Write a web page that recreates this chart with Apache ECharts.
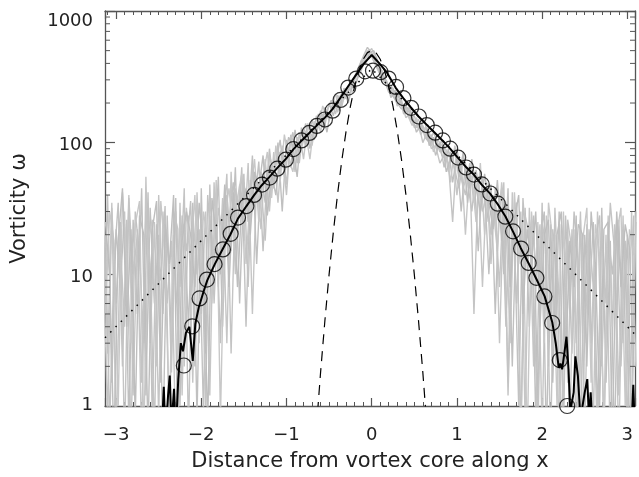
<!DOCTYPE html>
<html><head><meta charset="utf-8">
<script src="https://cdn.jsdelivr.net/npm/echarts@6/dist/echarts.min.js"></script>
<style>html,body{margin:0;padding:0;background:#fff}#c{width:639px;height:477px}</style>
</head><body><div id="c"></div>
<script>
// ---------- data ----------
const xTickLabels = ['−3','−2','−1','0','1','2','3'];
const yTickLabels = ['1','10','100','1000'];
const yMinorTicks = [2,3,4,5,6,7,8,9,20,30,40,50,60,70,80,90,200,300,400,500,600,700,800,900];

const grayX = [-3.15,-3.1,-3.05,-3,-2.95,-2.9,-2.85,-2.8,-2.75,-2.7,
 -2.65,-2.6,-2.55,-2.5,-2.45,-2.4,-2.35,-2.3,-2.25,-2.2,
 -2.15,-2.1,-2.05,-2,-1.95,-1.9,-1.85,-1.8,-1.75,-1.7,
 -1.65,-1.6,-1.55,-1.5,-1.45,-1.4,-1.35,-1.3,-1.25,-1.2,
 -1.15,-1.1,-1.05,-1,-0.95,-0.9,-0.85,-0.8,-0.75,-0.7,
 -0.65,-0.6,-0.55,-0.5,-0.45,-0.4,-0.35,-0.3,-0.25,-0.2,
 -0.15,-0.1,-0.05,0,0.05,0.1,0.15,0.2,0.25,0.3,
 0.35,0.4,0.45,0.5,0.55,0.6,0.65,0.7,0.75,0.8,
 0.85,0.9,0.95,1,1.05,1.1,1.15,1.2,1.25,1.3,
 1.35,1.4,1.45,1.5,1.55,1.6,1.65,1.7,1.75,1.8,
 1.85,1.9,1.95,2,2.05,2.1,2.15,2.2,2.25,2.3,
 2.35,2.4,2.45,2.5,2.55,2.6,2.65,2.7,2.75,2.8,
 2.85,2.9,2.95,3,3.05,3.1];

const gray1 = [28,2.5,35,0.6,18,4,40,1.2,22,0.5,
 55,3,25,0.8,30,6,18,0.5,35,2,
 28,1.5,42,5,30,1.2,50,8,38,3,
 60,10,48,18,70,5,55,22,75,30,
 85,35,95,48,110,60,120,75,140,95,
 160,120,185,145,210,170,240,215,290,270,
 340,400,470,520,430,370,310,270,245,215,
 200,170,175,140,150,120,130,95,110,85,
 95,60,85,40,75,20,65,35,55,8,
 50,12,45,3,38,1.5,42,6,30,0.8,
 32,2,25,0.6,28,4,20,0.5,30,1.5,
 22,0.5,26,3,18,0.7,30,2,20,0.5,
 24,1.2,28,0.6,30,2];

const gray2 = [3,40,1.5,22,8,30,0.7,26,5,45,
 1.2,32,6,20,0.5,28,3,38,1,24,
 4,35,0.8,45,2.5,28,12,55,4,40,
 15,65,6,50,25,80,12,60,35,90,
 45,100,30,105,65,125,80,115,100,150,
 110,175,135,200,160,230,190,260,250,320,
 380,450,530,480,400,340,290,250,225,200,
 180,190,150,160,125,135,105,115,80,100,
 65,90,50,80,30,70,45,60,15,55,
 25,48,5,40,10,45,2,35,0.6,32,
 4,28,1,35,0.5,24,3,30,0.7,22,
 2.5,28,0.5,20,5,25,0.8,32,1.5,18,
 0.5,26,3,20,0.7,25];

const gray3 = [15,0.8,32,6,25,0.5,38,10,20,1.5,
 30,12,0.6,40,5,22,1.8,30,8,45,
 0.6,30,10,25,1,48,6,32,20,58,
 2.5,45,30,58,8,68,40,50,18,80,
 60,78,90,40,115,95,70,130,110,125,
 140,150,165,190,185,200,225,240,270,300,
 360,420,500,450,380,330,300,240,260,190,
 210,155,165,130,140,100,120,90,95,70,
 80,70,25,90,55,40,70,5,50,30,
 40,20,30,8,50,1.2,20,35,0.5,28,
 20,8,0.6,25,15,0.5,32,6,1,26,
 15,3,30,0.6,22,8,0.5,25,6,35,
 15,0.5,22,8,0.6,30];

const grayXb = [-3.125,-3.075,-3.025,-2.975,-2.925,-2.875,-2.825,-2.775,-2.725,-2.675,
 -2.625,-2.575,-2.525,-2.475,-2.425,-2.375,-2.325,-2.275,-2.225,-2.175,
 -2.125,-2.075,-2.025,-1.975,-1.925,-1.875,-1.825,-1.775,-1.725,-1.675,
 -1.625,-1.575,-1.525,-1.475,-1.425,-1.375,-1.325,-1.275,-1.225,-1.175,
 -1.125,-1.075,-1.025,-0.975,-0.925,-0.875,-0.825,-0.775,-0.725,-0.675,
 -0.625,-0.575,-0.525,-0.475,-0.425,-0.375,-0.325,-0.275,-0.225,-0.175,
 -0.125,-0.075,-0.025,0.025,0.075,0.125,0.175,0.225,0.275,0.325,
 0.375,0.425,0.475,0.525,0.575,0.625,0.675,0.725,0.775,0.825,
 0.875,0.925,0.975,1.025,1.075,1.125,1.175,1.225,1.275,1.325,
 1.375,1.425,1.475,1.525,1.575,1.625,1.675,1.725,1.775,1.825,
 1.875,1.925,1.975,2.025,2.075,2.125,2.175,2.225,2.275,2.325,
 2.375,2.425,2.475,2.525,2.575,2.625,2.675,2.725,2.775,2.825,
 2.875,2.925,2.975,3.025,3.075];

const gray4 = [20,0.7,12,35,2,26,0.5,30,14,3,
 42,0.8,24,9,33,0.6,20,4,28,15,
 36,2,22,0.9,40,14,26,3,45,25,
 50,20,65,4,52,35,72,15,62,45,
 70,105,55,88,120,70,100,140,90,135,
 165,130,175,210,165,225,250,200,280,330,
 400,470,510,440,360,300,280,250,215,230,
 165,185,145,130,145,110,100,120,100,80,
 75,85,62,45,78,50,30,62,40,45,
 10,40,28,45,4,30,20,1,38,12,
 26,0.8,18,30,2,22,10,0.5,28,5,
 30,12,0.6,24,3,18,28,0.5,20,10,
 26,2,18,0.5,28];

const gray5 = [5,30,18,1,42,12,3,24,36,0.6,
 18,26,2,36,14,0.7,30,22,1.2,32,
 14,40,3,30,18,6,52,0.8,28,45,
 22,38,58,12,40,75,25,55,85,38,
 95,50,115,75,60,110,90,120,75,145,
 130,190,155,170,235,190,215,270,240,300,
 350,430,495,460,390,350,270,275,230,195,
 195,160,135,155,115,130,120,85,105,95,
 88,50,95,70,45,60,55,25,70,20,
 48,32,15,50,25,3,42,12,25,0.5,
 30,12,24,3,35,18,1,24,14,0.6,
 22,0.5,18,32,1.5,24,14,0.7,28,4,
 20,32,1,22,14];

const gray6 = [25,10,0.5,18,45,4,22,0.8,28,20,
 0.6,22,36,1.5,24,12,40,0.5,18,30,
 20,8,35,15,0.7,38,20,10,48,8,
 42,8,35,45,20,60,45,80,28,58,
 40,85,70,110,95,55,130,95,120,105,
 150,165,120,185,205,175,260,225,265,290,
 420,390,480,500,410,320,295,220,250,215,
 175,200,160,120,135,145,95,110,90,105,
 60,75,90,55,85,35,75,45,30,58,
 35,22,52,18,35,8,26,40,5,22,
 12,30,4,20,26,1.5,20,30,2,18,
 8,24,20,2,30,12,1,22,25,0.5,
 30,8,24,16,2];

const blackX = [-2.52,-2.47,-2.45,-2.44,-2.42,-2.39,-2.37,-2.35,-2.32,-2.3,
 -2.27,-2.24,-2.215,-2.18,-2.14,-2.1,-2.07,-2.03,-1.97,-1.93,
 -1.84,-1.75,-1.66,-1.57,-1.47,-1.38,-1.29,-1.2,-1.11,-1.01,
 -0.92,-0.82,-0.73,-0.64,-0.55,-0.46,-0.37,-0.27,-0.18,-0.09,
 0,0.09,0.18,0.28,0.37,0.46,0.55,0.65,0.74,0.83,
 0.92,1.01,1.11,1.2,1.29,1.39,1.48,1.57,1.66,1.75,
 1.84,1.93,2.03,2.12,2.16,2.195,2.215,2.235,2.26,2.286,
 2.31,2.33,2.37,2.39,2.42,2.45,2.5,2.53,2.55,2.57,
 2.6,2.7,2.85,3.0,3.05,3.07,3.09];
const blackY = [0.4,0.6,1.0,1.4,0.6,1.2,1.7,0.7,1.35,0.6,
 1.6,3.0,2.6,3.6,4.0,2.2,4.2,5.6,7.5,9.0,
 12,15.5,20,26.5,33,40,47.5,55,64,75,
 89,104,119,136,155,180,218,272,330,400,
 463,400,340,262,218,185,158,136,119,104,
 90,77,65,57,48,41,34,27.5,21,15.8,
 12.2,9.3,6.8,4.3,3.0,1.95,2.1,1.9,2.5,3.36,
 1.9,0.9,1.27,2.38,1.69,0.8,1.27,1.6,0.8,1.27,
 0.5,0.4,0.4,0.5,0.7,1.45,0.6];

const circleX = [-2.205,-2.106,-2.02,-1.934,-1.844,-1.746,-1.655,-1.569,-1.471,-1.381,
 -1.287,-1.196,-1.108,-1.008,-0.92,-0.824,-0.732,-0.644,-0.549,-0.459,
 -0.365,-0.275,-0.181,-0.079,0.015,0.104,0.198,0.286,0.372,0.462,
 0.554,0.647,0.745,0.835,0.921,1.015,1.107,1.2,1.292,1.392,
 1.48,1.568,1.659,1.753,1.842,1.933,2.027,2.118,2.207,2.294];
const circleY = [2.03,4.03,6.56,9.13,11.95,15.46,20.3,27,33,40.1,
 48,54.3,63.4,74.3,89.3,104,118.5,134,150,175,
 211,262,307,348,352,343,307,265,218,184,
 158,136,119,104,90,77,64.8,57.2,48.2,41.1,
 34.4,27.4,21.2,15.7,12.2,9.4,6.79,4.27,2.23,1.0];

const dotX = [-3.13, 0, 3.09];
const dotY = [3.3, 364, 3.5];

const dashX = [-0.65,-0.6,-0.55,-0.5,-0.45,-0.4,-0.35,-0.3,-0.25,-0.2,-0.15,-0.1,-0.05,0,
 0.05,0.1,0.15,0.2,0.25,0.3,0.35,0.4,0.45,0.5,0.55,0.6,0.65];
const dashY = [0.67,1.8,4.4,10,21,41,74,123,189,268,353,430,483,502,
 483,430,353,268,189,123,74,41,21,10,4.4,1.8,0.67];

// ---------- chart ----------
const X_MIN = -3.13, X_MAX = 3.09;
const FONT = 'DejaVu Sans';
const AX = '#555';
const TXT = '#222';
const zip = (xs, ys) => xs.map((x, i) => [x, ys[i]]);

const chart = echarts.init(document.getElementById('c'), null, {renderer: 'canvas'});
const xLab = v => {
  const k = Math.round(v);
  if (Math.abs(v - k) > 1e-6) return '';
  return xTickLabels[k + 3] || '';
};
const yLab = v => {
  const s = String(Math.round(v));
  if (!yTickLabels.includes(s)) return '';
  if (s === '1000') return '{t|' + s + '}';
  if (s === '1') return '{b|' + s + '}';
  return '{n|' + s + '}';
};
const xCommon = {
  type: 'value', min: X_MIN, max: X_MAX, minInterval: 1, maxInterval: 1,
  axisLine: {show: true, onZero: false, lineStyle: {color: AX, width: 1.3}},
  axisTick: {show: true, inside: true, length: 8, lineStyle: {color: AX, width: 1.2}},
  minorTick: {show: true, splitNumber: 10, length: 4, lineStyle: {color: AX, width: 1}},
  splitLine: {show: false}, minorSplitLine: {show: false}
};
const yCommon = {
  type: 'log', logBase: 10, min: 1, max: 1000,
  axisLine: {show: true, onZero: false, lineStyle: {color: AX, width: 1.3}},
  axisTick: {show: true, inside: true, length: 10, lineStyle: {color: AX, width: 1.2}},
  splitLine: {show: false}
};
const grayStyle = c => ({color: c, width: 1.4});
const graySeries = (xs, ys, c) => ({type: 'line', data: zip(xs, ys), showSymbol: false, symbol: 'none',
  clip: true, lineStyle: grayStyle(c), z: 1, silent: true});
const labRich = pad => ({fontFamily: FONT, fontSize: 18, color: TXT, padding: pad});

chart.setOption({
  animation: false,
  backgroundColor: '#fff',
  grid: {left: 105, right: 4, top: 11, bottom: 63, containLabel: false},
  xAxis: [
    Object.assign({}, xCommon, {
      position: 'bottom',
      name: 'Distance from vortex core along x', nameLocation: 'middle', nameGap: 45,
      nameTextStyle: {fontFamily: FONT, fontSize: 21, color: TXT},
      axisLabel: {show: true, margin: 20, formatter: xLab, showMinLabel: false, showMaxLabel: false,
        fontFamily: FONT, fontSize: 18, color: TXT}
    }),
    Object.assign({}, xCommon, {position: 'top', axisLabel: {show: false}})
  ],
  yAxis: [
    Object.assign({}, yCommon, {
      position: 'left',
      name: 'Vorticity ω', nameLocation: 'middle', nameGap: 75,
      nameTextStyle: {fontFamily: FONT, fontSize: 21, color: TXT},
      axisLabel: {show: true, margin: 12, formatter: yLab, fontFamily: FONT, fontSize: 18, color: TXT,
        rich: {
          t: labRich([20, 0, 0, 0]),
          n: labRich([6, 0, 0, 0]),
          b: labRich([0, 0, 1, 0])
        }}
    }),
    Object.assign({}, yCommon, {position: 'right', axisLabel: {show: false}})
  ],
  series: [
    graySeries(grayX, gray1, '#c6c6c6'),
    graySeries(grayXb, gray4, '#c2c2c2'),
    graySeries(grayX, gray2, '#c0c0c0'),
    graySeries(grayXb, gray5, '#c8c8c8'),
    graySeries(grayX, gray3, '#c4c4c4'),
    graySeries(grayXb, gray6, '#bebebe'),
    {type: 'line', data: zip(dashX, dashY), symbol: 'none', clip: true,
     lineStyle: {color: '#000', width: 1.2, type: [10, 7]}, z: 3},
    {type: 'line', data: zip(dotX, dotY), symbol: 'none', clip: true,
     lineStyle: {color: '#000', width: 1.5, type: [1.5, 6]}, z: 3},
    {type: 'line', data: zip(blackX, blackY), symbol: 'none', clip: true,
     lineStyle: {color: '#000', width: 2}, z: 4},
    {type: 'scatter', data: zip(circleX, circleY), symbol: 'circle', symbolSize: 15, clip: true,
     itemStyle: {color: 'rgba(0,0,0,0)', borderColor: '#000', borderWidth: 1.2}, z: 5},
    {type: 'custom', data: yMinorTicks.map(v => [X_MIN, v]), z: 6, silent: true,
     renderItem: (params, api) => {
       const y = api.coord([X_MIN, api.value(1)])[1];
       const cs = params.coordSys;
       const st = {stroke: AX, lineWidth: 1};
       return {type: 'group', children: [
         {type: 'line', shape: {x1: cs.x, y1: y, x2: cs.x + 5, y2: y}, style: st},
         {type: 'line', shape: {x1: cs.x + cs.width, y1: y, x2: cs.x + cs.width - 5, y2: y}, style: st}
       ]};
     }}
  ]
});
</script></body></html>
